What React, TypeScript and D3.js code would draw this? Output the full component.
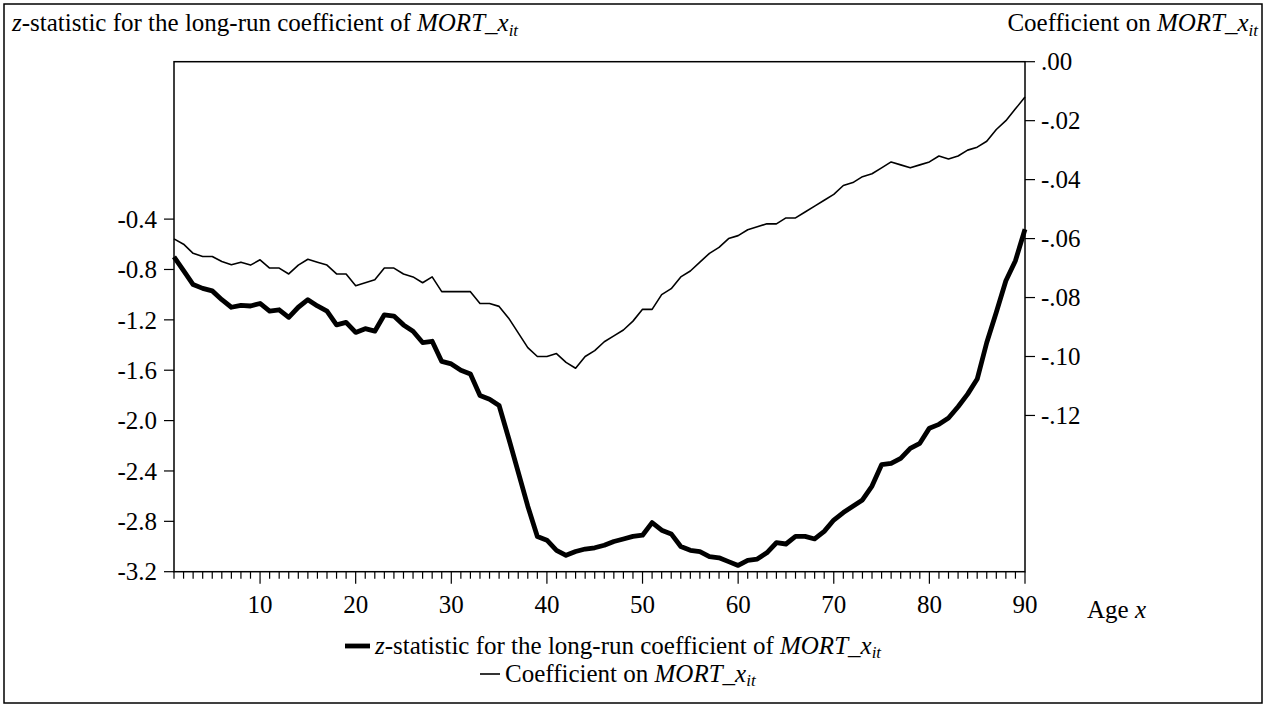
import React from "react";
import * as d3 from "d3";

// Age x (1..90)
const ages: number[] = d3.range(1, 91);

// z-statistic for the long-run coefficient of MORT_x_it (left axis)
const zStat: number[] = [
  -0.70, -0.81, -0.92, -0.95, -0.97, -1.04, -1.10, -1.085, -1.09, -1.07,
  -1.13, -1.12, -1.18, -1.10, -1.04, -1.09, -1.13, -1.24, -1.22, -1.30,
  -1.27, -1.29, -1.16, -1.17, -1.24, -1.29, -1.38, -1.37, -1.53, -1.55,
  -1.60, -1.63, -1.80, -1.83, -1.88, -2.14, -2.41, -2.68, -2.92, -2.95,
  -3.03, -3.07, -3.04, -3.02, -3.01, -2.99, -2.96, -2.94, -2.92, -2.91,
  -2.81, -2.87, -2.90, -3.00, -3.03, -3.04, -3.08, -3.09, -3.12, -3.15,
  -3.11, -3.10, -3.05, -2.97, -2.98, -2.92, -2.92, -2.94, -2.88, -2.79,
  -2.73, -2.68, -2.63, -2.52, -2.35, -2.34, -2.30, -2.22, -2.18, -2.06,
  -2.03, -1.98, -1.89, -1.79, -1.67, -1.38, -1.14, -0.89, -0.73, -0.48,
];

// Coefficient on MORT_x_it (right axis)
const coef: number[] = [
  -0.0601, -0.0619, -0.065, -0.0661, -0.0661, -0.0678, -0.0689, -0.068, -0.069, -0.0672,
  -0.070, -0.070, -0.072, -0.069, -0.067, -0.068, -0.069, -0.072, -0.072, -0.076,
  -0.075, -0.074, -0.070, -0.070, -0.072, -0.073, -0.075, -0.073, -0.078, -0.078,
  -0.078, -0.078, -0.082, -0.082, -0.083, -0.087, -0.092, -0.097, -0.100, -0.100,
  -0.099, -0.102, -0.104, -0.100, -0.098, -0.095, -0.093, -0.091, -0.088, -0.084,
  -0.084, -0.079, -0.077, -0.073, -0.071, -0.068, -0.065, -0.063, -0.060, -0.059,
  -0.057, -0.056, -0.055, -0.055, -0.053, -0.053, -0.051, -0.049, -0.047, -0.045,
  -0.042, -0.041, -0.039, -0.038, -0.036, -0.034, -0.035, -0.036, -0.035, -0.034,
  -0.032, -0.033, -0.032, -0.030, -0.029, -0.027, -0.023, -0.020, -0.016, -0.012,
];

const leftTicks: number[] = [-3.2, -2.8, -2.4, -2.0, -1.6, -1.2, -0.8, -0.4];
const rightTicks: number[] = [0, -0.02, -0.04, -0.06, -0.08, -0.1, -0.12];
const xMajorTicks: number[] = [10, 20, 30, 40, 50, 60, 70, 80, 90];

const W = 1266;
const H = 707;
const FONT = "'Liberation Serif', 'Times New Roman', serif";
const FS = 25;
const SUB = 17;

export default function App() {
  const left = 174, right = 1025, top = 61.7, bottom = 571.7;
  const x = d3.scaleLinear().domain([1, 90]).range([left, right]);
  const yL = d3.scaleLinear().domain([-3.2, 0.85]).range([bottom, top]);
  const yR = d3.scaleLinear().domain([-0.173, 0]).range([bottom, top]);

  const lineZ = d3.line<number>().x((_, i) => x(ages[i])).y((d) => yL(d));
  const lineC = d3.line<number>().x((_, i) => x(ages[i])).y((d) => yR(d));

  const fmtL = (v: number) => v.toFixed(1);
  const fmtR = (v: number) => v.toFixed(2).replace("0.", ".");

  const minorTicks = d3.range(1, 91);

  const mortLabel = (dy: number) => (
    <>
      <tspan fontStyle="italic">MORT_x</tspan>
      <tspan fontStyle="italic" fontSize={SUB} dy={dy}>it</tspan>
    </>
  );

  return (
    <svg
      width={W}
      height={H}
      style={{ position: "absolute", left: 0, top: 0, background: "#fff" }}
      fontFamily={FONT}
      fontSize={FS}
    >
      <rect x={0} y={0} width={W} height={H} fill="#fff" />
      <rect x={4} y={4} width={1258} height={699} fill="none" stroke="#000" strokeWidth={1.5} />

      {/* Titles */}
      <text x={12} y={31}>
        <tspan fontStyle="italic">z</tspan>-statistic for the long-run coefficient of {mortLabel(5)}
      </text>
      <text x={1258} y={31} textAnchor="end">
        Coefficient on {mortLabel(5)}
      </text>

      {/* Plot box */}
      <rect x={left} y={top} width={right - left} height={bottom - top} fill="none" stroke="#000" strokeWidth={1.5} />

      {/* Left ticks */}
      {leftTicks.map((t) => (
        <g key={"l" + t}>
          <line x1={left - 10} x2={left} y1={yL(t)} y2={yL(t)} stroke="#000" strokeWidth={1.2} />
          <text x={left - 17} y={yL(t)} dy="0.35em" textAnchor="end">{fmtL(t)}</text>
        </g>
      ))}

      {/* Right ticks */}
      {rightTicks.map((t) => (
        <g key={"r" + t}>
          <line x1={right} x2={right + 10} y1={yR(t)} y2={yR(t)} stroke="#000" strokeWidth={1.2} />
          <text x={right + 16} y={yR(t)} dy="0.35em" textAnchor="start">{fmtR(t)}</text>
        </g>
      ))}

      {/* Bottom ticks */}
      {minorTicks.map((t) => (
        <line
          key={"m" + t}
          x1={x(t)}
          x2={x(t)}
          y1={bottom}
          y2={bottom + (t % 10 === 0 ? 12 : 7)}
          stroke="#000"
          strokeWidth={1.2}
        />
      ))}
      {xMajorTicks.map((t) => (
        <text key={"x" + t} x={x(t)} y={613} textAnchor="middle">{t}</text>
      ))}
      <text x={1087} y={618}>
        Age <tspan fontStyle="italic">x</tspan>
      </text>

      {/* Series */}
      <path d={lineC(coef) || ""} fill="none" stroke="#000" strokeWidth={1.6} strokeLinejoin="round" />
      <path d={lineZ(zStat) || ""} fill="none" stroke="#000" strokeWidth={4.8} strokeLinejoin="round" />

      {/* Legend */}
      <line x1={345} x2={370} y1={646} y2={646} stroke="#000" strokeWidth={4.8} />
      <text x={375} y={654}>
        <tspan fontStyle="italic">z</tspan>-statistic for the long-run coefficient of {mortLabel(4)}
      </text>
      <line x1={480} x2={500} y1={674} y2={674} stroke="#000" strokeWidth={1.6} />
      <text x={505} y={682}>
        Coefficient on {mortLabel(4)}
      </text>
    </svg>
  );
}
